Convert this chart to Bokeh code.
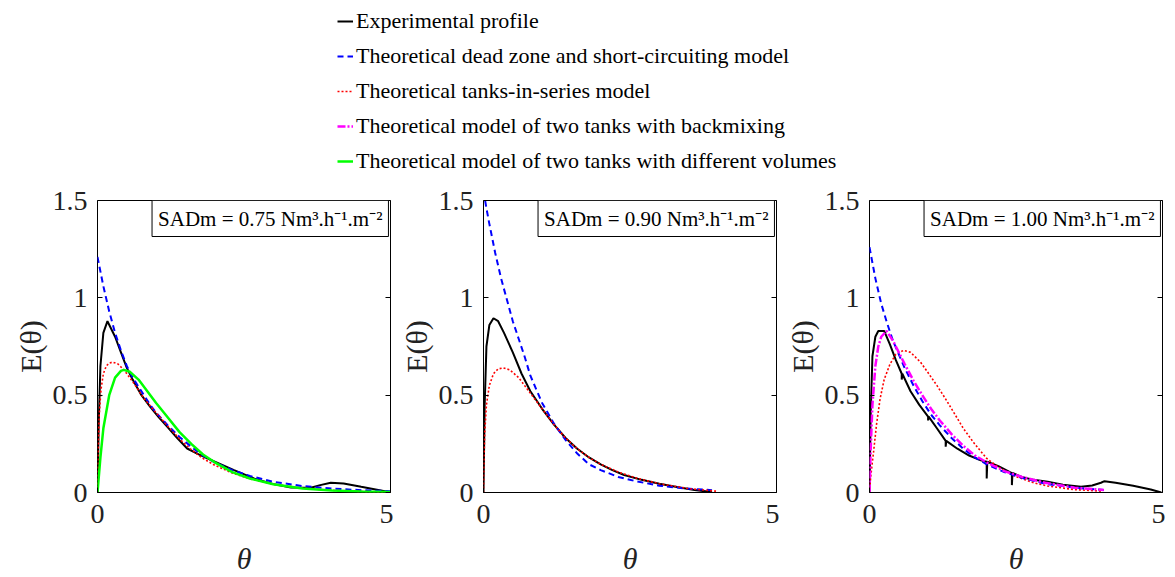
from bokeh.plotting import figure
from bokeh.models import Legend, LegendItem, LinearAxis, FixedTicker, Label, Range1d
from bokeh.layouts import column, row
from bokeh.embed import file_html
from bokeh.resources import INLINE

FONT = "Liberation Serif"

legend_labels = ["Experimental profile",
                 "Theoretical dead zone and short-circuiting model",
                 "Theoretical tanks-in-series model",
                 "Theoretical model of two tanks with backmixing",
                 "Theoretical model of two tanks with different volumes"]
sadm_labels = ["SADm = 0.75 Nm\u00b3.h\u207b\u00b9.m\u207b\u00b2",
               "SADm = 0.90 Nm\u00b3.h\u207b\u00b9.m\u207b\u00b2",
               "SADm = 1.00 Nm\u00b3.h\u207b\u00b9.m\u207b\u00b2"]
x_ticks = [0, 5]
x_tick_labels = ["0", "5"]
y_ticks = [0, 0.5, 1, 1.5]
y_tick_labels = ["0", "0.5", "1", "1.5"]

# ---- Panel 1 : SADm = 0.75
exp1_t = [0, 0.02, 0.05, 0.1, 0.17, 0.3, 0.4, 0.5, 0.6, 0.75, 0.9, 1.05, 1.2, 1.36, 1.53, 1.7, 1.875, 2.05, 2.33, 2.67, 3.0, 3.3, 3.64, 3.8, 3.98, 4.2, 4.5, 4.97]
exp1_E = [0, 0.35, 0.65, 0.82, 0.88, 0.80, 0.72, 0.64, 0.58, 0.50, 0.44, 0.385, 0.335, 0.28, 0.226, 0.2, 0.175, 0.152, 0.115, 0.072, 0.043, 0.026, 0.024, 0.038, 0.05, 0.046, 0.029, 0.003]
dz1_t = [0, 0.1, 0.2, 0.3, 0.4, 0.5, 0.6, 0.75, 0.9, 1.0, 1.2, 1.4, 1.6, 1.8, 2.0, 2.3, 2.6, 3.0, 3.5, 4.0, 4.5, 5.0]
dz1_E = [1.21, 1.06, 0.93, 0.82, 0.73, 0.65, 0.59, 0.52, 0.45, 0.41, 0.345, 0.285, 0.235, 0.19, 0.155, 0.115, 0.085, 0.055, 0.033, 0.02, 0.012, 0.007]
tis1_t = [0, 0.01, 0.03, 0.06, 0.1, 0.15, 0.2, 0.26, 0.35, 0.45, 0.6, 0.8, 1.0, 1.2, 1.4, 1.6, 1.8, 2.0, 2.3, 2.6, 3.0, 3.5, 4.0, 4.5, 5.0]
tis1_E = [0, 0.2, 0.4, 0.53, 0.61, 0.65, 0.665, 0.67, 0.66, 0.63, 0.57, 0.48, 0.41, 0.34, 0.275, 0.22, 0.175, 0.14, 0.1, 0.07, 0.043, 0.022, 0.011, 0.005, 0.002]
dv1_t = [0, 0.05, 0.1, 0.2, 0.3, 0.4, 0.45, 0.55, 0.7, 0.85, 1.0, 1.2, 1.4, 1.6, 1.8, 2.0, 2.3, 2.6, 3.0, 3.5, 4.0, 4.5, 5.0]
dv1_E = [0, 0.18, 0.33, 0.5, 0.59, 0.625, 0.63, 0.62, 0.58, 0.52, 0.46, 0.385, 0.31, 0.25, 0.195, 0.155, 0.105, 0.072, 0.042, 0.02, 0.01, 0.005, 0.002]

# ---- Panel 2 : SADm = 0.90
exp2_t = [0, 0.02, 0.05, 0.1, 0.17, 0.25, 0.35, 0.5, 0.65, 0.8, 0.9, 1.0, 1.2, 1.4, 1.6, 1.8, 2.0, 2.2, 2.4, 2.7, 3.0, 3.3, 3.6, 3.9]
exp2_E = [0, 0.45, 0.75, 0.86, 0.895, 0.88, 0.82, 0.72, 0.61, 0.52, 0.475, 0.43, 0.35, 0.28, 0.225, 0.18, 0.145, 0.115, 0.09, 0.065, 0.045, 0.028, 0.013, 0.002]
dz2_t = [0, 0.05, 0.1, 0.2, 0.3, 0.4, 0.5, 0.6, 0.7, 0.8, 0.9, 1.0, 1.2, 1.4, 1.6, 1.8, 2.0, 2.3, 2.6, 3.0, 3.4, 3.9]
dz2_E = [1.55, 1.46, 1.38, 1.23, 1.10, 0.99, 0.88, 0.79, 0.70, 0.60, 0.53, 0.46, 0.355, 0.27, 0.2, 0.145, 0.115, 0.08, 0.058, 0.035, 0.022, 0.012]
tis2_t = [0, 0.005, 0.02, 0.05, 0.1, 0.17, 0.25, 0.34, 0.45, 0.6, 0.75, 0.9, 1.0, 1.2, 1.4, 1.6, 1.8, 2.0, 2.3, 2.6, 3.0, 3.5, 4.0]
tis2_E = [0, 0.12, 0.3, 0.45, 0.55, 0.61, 0.635, 0.64, 0.63, 0.59, 0.53, 0.47, 0.43, 0.35, 0.28, 0.225, 0.18, 0.145, 0.105, 0.075, 0.045, 0.02, 0.006]

# ---- Panel 3 : SADm = 1.00
exp3_t = [0, 0.02, 0.05, 0.1, 0.15, 0.25, 0.35, 0.45, 0.55, 0.55, 0.56, 0.7, 0.85, 1.0, 1.0, 1.01, 1.15, 1.3, 1.3, 1.31, 1.5, 1.7, 1.9, 2.0, 2.0, 2.01, 2.2, 2.43, 2.43, 2.44, 2.6, 2.8, 3.04, 3.3, 3.61, 3.8, 3.95, 4.01, 4.2, 4.5, 4.8, 4.98]
exp3_E = [0, 0.4, 0.7, 0.8, 0.83, 0.83, 0.76, 0.68, 0.61, 0.58, 0.61, 0.52, 0.45, 0.39, 0.37, 0.39, 0.33, 0.265, 0.235, 0.265, 0.225, 0.19, 0.165, 0.158, 0.072, 0.158, 0.135, 0.1, 0.038, 0.1, 0.08, 0.065, 0.055, 0.04, 0.03, 0.036, 0.05, 0.058, 0.05, 0.035, 0.015, 0.0]
dz3_t = [0, 0.1, 0.2, 0.3, 0.4, 0.5, 0.6, 0.75, 0.9, 1.05, 1.2, 1.4, 1.6, 1.8, 2.0, 2.3, 2.6, 3.0, 3.5, 4.0]
dz3_E = [1.26, 1.1, 0.97, 0.87, 0.78, 0.71, 0.64, 0.55, 0.47, 0.40, 0.345, 0.28, 0.225, 0.18, 0.145, 0.105, 0.075, 0.045, 0.025, 0.013]
tis3_t = [0, 0.02, 0.07, 0.12, 0.18, 0.25, 0.35, 0.45, 0.58, 0.7, 0.87, 1.0, 1.15, 1.3, 1.44, 1.6, 1.78, 2.0, 2.2, 2.47, 2.8, 3.04, 3.5, 3.95]
tis3_E = [0, 0.08, 0.21, 0.35, 0.48, 0.58, 0.66, 0.71, 0.73, 0.72, 0.67, 0.615, 0.55, 0.48, 0.41, 0.33, 0.255, 0.175, 0.13, 0.085, 0.05, 0.033, 0.015, 0.007]
bm3_t = [0, 0.02, 0.05, 0.1, 0.15, 0.2, 0.29, 0.4, 0.5, 0.6, 0.75, 0.9, 1.05, 1.2, 1.4, 1.6, 1.8, 2.0, 2.3, 2.6, 3.0, 3.5, 4.0]
bm3_E = [0, 0.22, 0.45, 0.65, 0.75, 0.8, 0.83, 0.78, 0.72, 0.66, 0.575, 0.5, 0.43, 0.37, 0.3, 0.24, 0.19, 0.155, 0.11, 0.08, 0.05, 0.025, 0.013]

STY = {
    "exp": dict(line_color="black", line_width=2),
    "dz": dict(line_color="#0000ff", line_width=2, line_dash="6 4"),
    "tis": dict(line_color="#ff0000", line_width=1.6, line_dash="2 2"),
    "bm": dict(line_color="#ff00ff", line_width=2.5, line_dash="8 2 2 2"),
    "dv": dict(line_color="#00ff00", line_width=2.5),
}


def make_panel(label_text, curves, width, left):
    p = figure(width=width, height=397, x_range=Range1d(0, 5), y_range=Range1d(0, 1.5),
               output_backend="svg", toolbar_location=None,
               min_border_left=left, min_border_right=3, min_border_top=20, min_border_bottom=85)
    p.grid.visible = False
    p.outline_line_color = "black"
    p.outline_line_width = 1
    p.background_fill_color = "white"
    for key, t, e in curves:
        p.line(t, e, **STY[key])
    xa = p.xaxis[0]
    xa.ticker = FixedTicker(ticks=x_ticks)
    xa.major_label_overrides = dict(zip(x_ticks, x_tick_labels))
    xa.axis_label = "\u03b8"
    xa.axis_label_text_font_style = "italic"
    ya = p.yaxis[0]
    ya.ticker = FixedTicker(ticks=y_ticks)
    ya.major_label_overrides = dict(zip(y_ticks, y_tick_labels))
    ya.axis_label = "E(\u03b8)"
    ya.axis_label_text_font_style = "normal"
    for ax in (xa, ya):
        ax.axis_line_color = None
        ax.major_tick_in = 5
        ax.major_tick_out = 0
        ax.minor_tick_line_color = None
        ax.major_label_text_font = FONT
        ax.major_label_text_font_size = "28px"
        ax.major_label_text_color = "#222222"
        ax.axis_label_text_font = FONT
        ax.axis_label_text_font_size = "30px"
        ax.axis_label_text_color = "#222222"
    xa.major_label_standoff = 12
    xa.axis_label_standoff = 16
    ya.major_label_standoff = 10
    ya.axis_label_standoff = 3
    ya.major_label_orientation = "horizontal"
    ra = LinearAxis(ticker=FixedTicker(ticks=y_ticks), major_label_text_font_size="0px",
                    axis_line_color=None, major_tick_in=5, major_tick_out=0,
                    minor_tick_line_color=None, major_label_standoff=0,
                    major_label_overrides={k: "" for k in y_ticks})
    p.add_layout(ra, "right")
    lab = Label(x=4.965, y=1.5, text=label_text, text_align="right", text_baseline="top",
                text_font=FONT, text_font_size="21px", text_color="black",
                border_line_color="black", border_line_width=1,
                background_fill_color="white", padding=6)
    p.add_layout(lab)
    return p


p1 = make_panel(sadm_labels[0], [("exp", exp1_t, exp1_E), ("dz", dz1_t, dz1_E),
                                 ("tis", tis1_t, tis1_E), ("dv", dv1_t, dv1_E)], 393, 97)
p2 = make_panel(sadm_labels[1], [("exp", exp2_t, exp2_E), ("dz", dz2_t, dz2_E),
                                 ("tis", tis2_t, tis2_E)], 386, 90)
p3 = make_panel(sadm_labels[2], [("exp", exp3_t, exp3_E), ("tis", tis3_t, tis3_E),
                                 ("dz", dz3_t, dz3_E), ("bm", bm3_t, bm3_E)], 386, 90)

# ---- Legend strip (sample lines live outside the visible range; only the legend shows)
lf = figure(width=1165, height=180, output_backend="svg", toolbar_location=None,
            x_range=Range1d(0, 1), y_range=Range1d(0, 1),
            x_axis_location=None, y_axis_location=None, min_border=0)
lf.grid.visible = False
lf.outline_line_color = None
items = []
for key, lab in zip(["exp", "dz", "tis", "bm", "dv"], legend_labels):
    r = lf.line([-3, -2], [-3, -2], **STY[key])
    items.append(LegendItem(label=lab, renderers=[r]))
leg = Legend(items=items, location=(337, 6), orientation="vertical",
             label_text_font=FONT, label_text_font_size="22px", label_text_color="black",
             glyph_width=16, glyph_height=26, label_height=26, spacing=9,
             label_standoff=3, padding=0, margin=0,
             border_line_alpha=0, background_fill_alpha=0)
lf.add_layout(leg)

layout = column(lf, row(p1, p2, p3))
open("out.html", "w").write(file_html(layout, INLINE))
